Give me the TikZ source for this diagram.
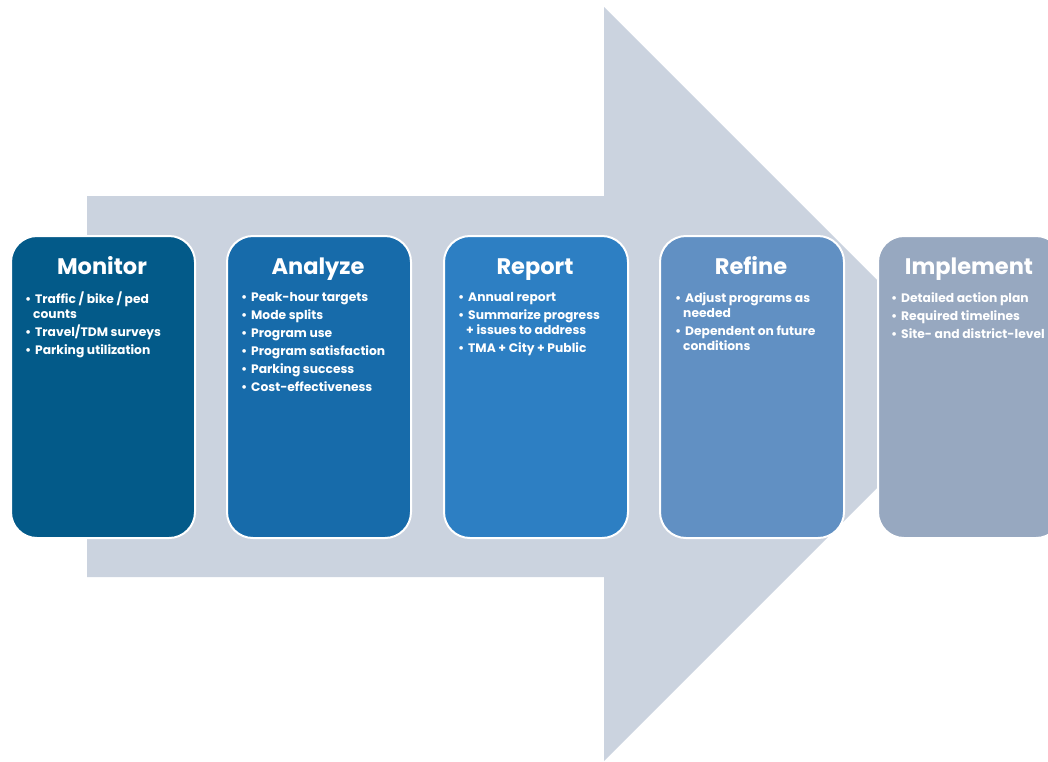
\documentclass[tikz,border=0pt]{standalone}
\usepackage{fontspec}
\setmainfont{Poppins}
\definecolor{arrowgray}{HTML}{CBD3DF}
\definecolor{cMonitor}{HTML}{035A89}
\definecolor{cAnalyze}{HTML}{176BAA}
\definecolor{cReport}{HTML}{2D7FC3}
\definecolor{cRefine}{HTML}{6190C3}
\definecolor{cImplement}{HTML}{97A8C0}
\newcommand{\itm}[1]{\par\hangindent=8pt\hangafter=1\noindent\makebox[10pt][l]{\textbullet}#1}
\tikzset{
  stage/.style={draw=white, line width=2pt, rounded corners=26pt, minimum width=184pt, minimum height=302pt, anchor=north west, inner sep=0pt},
  stagetitle/.style={text=white, font=\fontsize{22.5}{26}\selectfont\bfseries, anchor=base, inner sep=0pt},
  stagelist/.style={text=white, font=\fontsize{12.3}{15}\selectfont\bfseries, anchor=north west, inner sep=0pt, align=left}
}
\newcommand{\lst}[1]{\parbox[t]{220pt}{\setlength{\parskip}{3pt}\raggedright #1}}
\begin{document}
\begin{tikzpicture}[x=1pt,y=-1pt]
\useasboundingbox (0,0) rectangle (1048,761);
\clip (0,0) rectangle (1048,761);
% big arrow
\fill[arrowgray] (87,196) -- (604,196) -- (604,7) -- (981,384) -- (604,761) -- (604,577) -- (87,577) -- cycle;
% stages
\node[stage, fill=cMonitor] (monitor) at (10,235) {};
\node[stage, fill=cAnalyze] (analyze) at (226,235) {};
\node[stage, fill=cReport] (report) at (443,235) {};
\node[stage, fill=cRefine] (refine) at (659,235) {};
\node[stage, fill=cImplement] (implement) at (877,235) {};
% titles
\node[stagetitle] (tmonitor) at (102,274) {Monitor};
\node[stagetitle] (tanalyze) at (318,274) {Analyze};
\node[stagetitle] (treport) at (535,274) {Report};
\node[stagetitle] (trefine) at (751,274) {Refine};
\node[stagetitle] (timplement) at (969,274) {Implement};
% lists
\node[stagelist] (lmonitor) at (25,292) {\lst{\itm{Traffic / bike / ped\newline counts}\itm{Travel/TDM surveys}\itm{Parking utilization}}};
\node[stagelist] (lanalyze) at (241,292) {\lst{\itm{Peak-hour targets}\itm{Mode splits}\itm{Program use}\itm{Program satisfaction}\itm{Parking success}\itm{Cost-effectiveness}}};
\node[stagelist] (lreport) at (458,292) {\lst{\itm{Annual report}\itm{Summarize progress\newline + issues to address}\itm{TMA + City + Public}}};
\node[stagelist] (lrefine) at (675,292) {\lst{\itm{Adjust programs as\newline needed}\itm{Dependent on future\newline conditions}}};
\node[stagelist] (limplement) at (891,292) {\lst{\itm{Detailed action plan}\itm{Required timelines}\itm{Site- and district-level}}};
\end{tikzpicture}
\end{document}
